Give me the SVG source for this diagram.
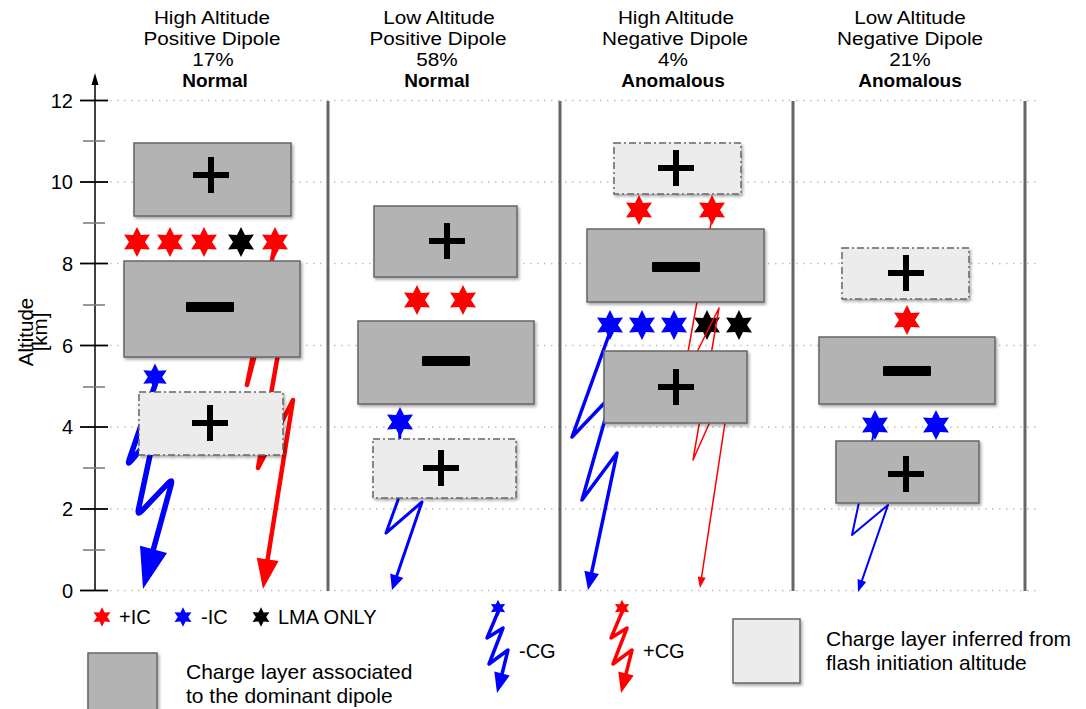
<svg xmlns="http://www.w3.org/2000/svg" xmlns:xlink="http://www.w3.org/1999/xlink" width="1086" height="709" viewBox="0 0 1086 709">
<defs>
<style>
.t{font-family:"Liberation Sans",Arial,sans-serif;fill:#000}
.title{font-size:18.5px;text-anchor:middle}
.b{font-weight:bold;font-size:19px}
.tick{font-size:20px;text-anchor:end}
.leg{font-size:20px}
.leg2{font-size:21px}
.box{fill:#b3b3b3;stroke:#666;stroke-width:1.5;filter:url(#sh)}
.lbox{fill:#ececec;stroke:#666;stroke-width:1.5;stroke-dasharray:7 3 2 3;filter:url(#sh)}
.grid{stroke:#bdbdbd;stroke-width:1.3;stroke-dasharray:1.5 5.5;fill:none}
.sep{stroke:#666;stroke-width:3}
.bolt{fill:none;stroke-linejoin:round;stroke-linecap:round}
.red{fill:#ff0000}
.blue{fill:#0000ff}
.blk{fill:#000}
</style>
<filter id="sh" x="-10%" y="-10%" width="125%" height="130%">
<feDropShadow dx="1.5" dy="2" stdDeviation="1.5" flood-color="#000" flood-opacity="0.35"/>
</filter>
<path id="star" d="M0,-15 L4,-6.93 L12.99,-7.5 L8,0 L12.99,7.5 L4,6.93 L0,15 L-4,6.93 L-12.99,7.5 L-8,0 L-12.99,-7.5 L-4,-6.93 Z"/>
<g id="plus"><rect x="-18" y="-3" width="36" height="6"/><rect x="-3" y="-18" width="6" height="36"/></g>
<rect id="minus" x="-24" y="-5" width="48" height="10" rx="1"/>
</defs>
<rect width="1086" height="709" fill="#fff"/>

<g id="titles" class="t title">
<text transform="translate(212,24) scale(1.12,1)">High Altitude</text><text transform="translate(212,45) scale(1.12,1)">Positive Dipole</text><text transform="translate(213,66) scale(1.12,1)">17%</text><text x="215" y="87" class="b">Normal</text>
<text transform="translate(439,24) scale(1.12,1)">Low Altitude</text><text transform="translate(438,45) scale(1.12,1)">Positive Dipole</text><text transform="translate(437,66) scale(1.12,1)">58%</text><text x="437" y="87" class="b">Normal</text>
<text transform="translate(676,24) scale(1.12,1)">High Altitude</text><text transform="translate(675,45) scale(1.12,1)">Negative Dipole</text><text transform="translate(673,66) scale(1.12,1)">4%</text><text x="673" y="87" class="b">Anomalous</text>
<text transform="translate(910,24) scale(1.12,1)">Low Altitude</text><text transform="translate(910,45) scale(1.12,1)">Negative Dipole</text><text transform="translate(910,66) scale(1.12,1)">21%</text><text x="910" y="87" class="b">Anomalous</text>
</g>

<g id="grid">
<line class="grid" x1="110" y1="100.5" x2="1040" y2="100.5"/>
<line class="grid" x1="110" y1="182" x2="1040" y2="182"/>
<line class="grid" x1="110" y1="263.5" x2="1040" y2="263.5"/>
<line class="grid" x1="110" y1="345.5" x2="1040" y2="345.5"/>
<line class="grid" x1="110" y1="427" x2="1040" y2="427"/>
<line class="grid" x1="110" y1="509" x2="1040" y2="509"/>
<line class="grid" x1="110" y1="590.5" x2="1040" y2="590.5"/>
</g>

<g id="axis">
<line x1="95" y1="82" x2="95" y2="591" stroke="#000" stroke-width="1.5"/>
<polygon points="95,73 91.5,85 98.5,85" fill="#000"/>
<g stroke="#000" stroke-width="1.8">
<line x1="80" y1="100.5" x2="108" y2="100.5"/><line x1="80" y1="182" x2="108" y2="182"/><line x1="80" y1="263.5" x2="108" y2="263.5"/><line x1="80" y1="345.5" x2="108" y2="345.5"/><line x1="80" y1="427" x2="108" y2="427"/><line x1="80" y1="509" x2="108" y2="509"/><line x1="80" y1="590.5" x2="108" y2="590.5"/>
</g>
<g stroke="#777" stroke-width="1.5">
<line x1="83" y1="141" x2="105" y2="141"/><line x1="83" y1="223" x2="105" y2="223"/><line x1="83" y1="305" x2="105" y2="305"/><line x1="83" y1="387" x2="105" y2="387"/><line x1="83" y1="468" x2="105" y2="468"/><line x1="83" y1="550" x2="105" y2="550"/>
</g>
<g class="t tick">
<text x="73" y="108">12</text><text x="73" y="189">10</text><text x="73" y="271">8</text><text x="73" y="353">6</text><text x="73" y="434">4</text><text x="73" y="516">2</text><text x="73" y="598">0</text>
</g>
<text class="t" font-size="20.5" text-anchor="middle" transform="translate(33,332) rotate(-90)"><tspan x="0" y="0">Altitude</tspan><tspan x="0" y="14">[km]</tspan></text>
</g>

<g id="separators">
<line class="sep" x1="328" y1="101" x2="328" y2="591"/>
<line class="sep" x1="560" y1="101" x2="560" y2="591"/>
<line class="sep" x1="793" y1="101" x2="793" y2="591"/>
<line class="sep" x1="1025" y1="101" x2="1025" y2="591"/>
</g>

<g id="stars">
<use href="#star" class="red" transform="translate(137,242)"/>
<use href="#star" class="red" transform="translate(170,242)"/>
<use href="#star" class="red" transform="translate(204,242)"/>
<use href="#star" class="blk" transform="translate(241,242)"/>
<use href="#star" class="red" transform="translate(275,242)"/>
<use href="#star" class="blue" transform="translate(155,377) scale(0.9)"/>
<use href="#star" class="red" transform="translate(417,300)"/>
<use href="#star" class="red" transform="translate(463,300)"/>
<use href="#star" class="blue" transform="translate(400,422)"/>
<use href="#star" class="red" transform="translate(639,210)"/>
<use href="#star" class="red" transform="translate(712,210)"/>
<use href="#star" class="blue" transform="translate(610,325)"/>
<use href="#star" class="blue" transform="translate(642,325)"/>
<use href="#star" class="blue" transform="translate(674,325)"/>
<use href="#star" class="blk" transform="translate(707,325)"/>
<use href="#star" class="blk" transform="translate(739,325)"/>
<use href="#star" class="red" transform="translate(907,320)"/>
<use href="#star" class="blue" transform="translate(875,425)"/>
<use href="#star" class="blue" transform="translate(936,425)"/>
</g>

<g id="connectors">
<path class="bolt" stroke="#0000ff" stroke-width="5.5" d="M155,385 L129.3,459.4 Q127,466 131.5,460.6 L150.5,437.4 Q155,432 153.5,438.8 L138.5,509.2 Q137,516 141.8,510.9 L168.2,483.1 Q173,478 171.1,484.8 L153.5,549"/>
<polygon fill="#0000ff" points="143,589 167,553 140,545.7"/>
<polyline class="bolt" stroke="#ff0000" stroke-width="4.5" points="274,250 247,385 264,320 284,320 258,468 293,400 267.7,559"/>
<polygon fill="#ff0000" points="263,589 278.6,561.1 256.8,557.7"/>
<polyline class="bolt" stroke="#0000ff" stroke-width="3" points="400,428 398,500 386,533 422,502 396.8,575.8"/>
<polygon fill="#0000ff" points="392,590 403.4,578.1 390.2,573.5"/>
<polyline class="bolt" stroke="#0000ff" stroke-width="3.5" points="610,332 572,437 612,395 582,500 617,453 591.7,572.4"/>
<polygon fill="#0000ff" points="588,590 599,574 584.4,570.8"/>
<polyline class="bolt" stroke="#ff0000" stroke-width="1.5" points="712,218 683,380 719,308 693,460 733,370 701.6,577"/>
<polygon fill="#ff0000" points="700,588 705.6,577.7 697.7,576.5"/>
<polyline class="bolt" stroke="#0000ff" stroke-width="2" points="874,432 852,535 888,505 861.9,580.6"/>
<polygon fill="#0000ff" points="858,592 866.2,582.1 857.6,579.1"/>
</g>

<g id="c1-top"><rect class="box" x="134" y="143" width="157" height="73"/><use href="#plus" transform="translate(211,175)"/></g>
<g id="c1-mid"><rect class="box" x="124" y="261" width="176" height="96"/><use href="#minus" transform="translate(210,307)"/></g>
<g id="c1-low"><rect class="lbox" x="139" y="392" width="144" height="63"/><use href="#plus" transform="translate(210,423)"/></g>

<g id="c2-top"><rect class="box" x="374" y="206" width="143" height="71"/><use href="#plus" transform="translate(447,241)"/></g>
<g id="c2-mid"><rect class="box" x="358" y="321" width="176" height="83"/><use href="#minus" transform="translate(446,361)"/></g>
<g id="c2-low"><rect class="lbox" x="373" y="439" width="143" height="59"/><use href="#plus" transform="translate(441,468)"/></g>

<g id="c3-top"><rect class="lbox" x="614" y="143" width="127" height="51"/><use href="#plus" transform="translate(676,168)"/></g>
<g id="c3-mid"><rect class="box" x="587" y="229" width="177" height="73"/><use href="#minus" transform="translate(676,267)"/></g>
<g id="c3-low"><rect class="box" x="604" y="351" width="143" height="72"/><use href="#plus" transform="translate(676,387)"/></g>

<g id="c4-top"><rect class="lbox" x="842" y="248" width="127" height="51"/><use href="#plus" transform="translate(906,273)"/></g>
<g id="c4-mid"><rect class="box" x="819" y="337" width="176" height="67"/><use href="#minus" transform="translate(907,371)"/></g>
<g id="c4-low"><rect class="box" x="836" y="441" width="143" height="62"/><use href="#plus" transform="translate(906,474)"/></g>

<g id="legend-stars">
<use href="#star" class="red" transform="translate(102,617) scale(0.65)"/>
<text class="t leg" x="119" y="624">+IC</text>
<use href="#star" class="blue" transform="translate(183,617) scale(0.65)"/>
<text class="t leg" x="201" y="624">-IC</text>
<use href="#star" class="blk" transform="translate(261,617) scale(0.65)"/>
<text class="t leg" x="278" y="624">LMA ONLY</text>
</g>

<g id="legend-cg">
<polyline class="bolt" stroke="#0000ff" stroke-width="3.5" points="498,612 487,638 503,628 489,664 508,650 502,674"/>
<polygon fill="#0000ff" points="497,693 509.7,675.6 494.3,671.6"/>
<use href="#star" class="blue" transform="translate(498,608) scale(0.55)"/>
<text class="t leg" x="519" y="658">-CG</text>
<polyline class="bolt" stroke="#ff0000" stroke-width="3.5" points="622,612 611,638 627,628 613,664 632,650 626,674"/>
<polygon fill="#ff0000" points="621,693 633.7,675.6 618.3,671.6"/>
<use href="#star" class="red" transform="translate(622,608) scale(0.55)"/>
<text class="t leg" x="643" y="658">+CG</text>
</g>

<g id="legend-boxes">
<rect class="box" x="88" y="653" width="69" height="70"/>
<text class="t leg2" x="186" y="679">Charge layer associated</text>
<text class="t leg2" x="186" y="703">to the dominant dipole</text>
<rect x="733" y="619" width="67" height="64" fill="#ececec" stroke="#666" stroke-width="1.5" filter="url(#sh)"/>
<text class="t leg2" x="826" y="646">Charge layer inferred from</text>
<text class="t leg2" x="826" y="670">flash initiation altitude</text>
</g>
</svg>
